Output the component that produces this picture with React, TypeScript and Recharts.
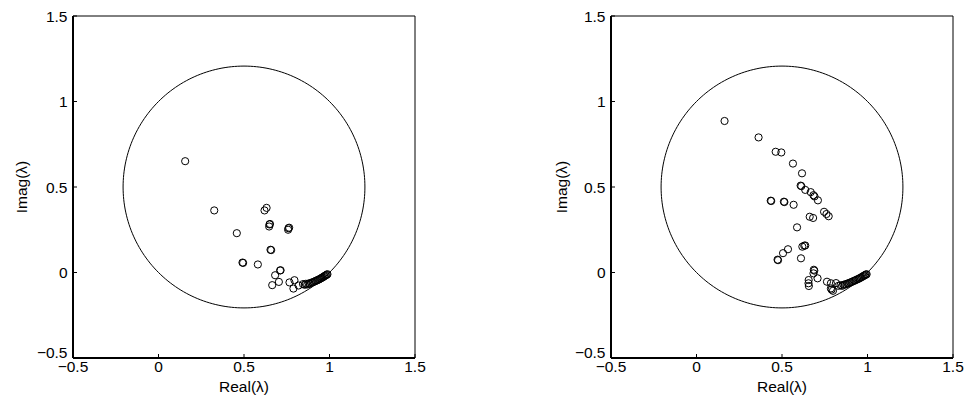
import React from 'react';
import { ScatterChart, Scatter, XAxis, YAxis } from 'recharts';

// axis setup shared by both panels
const AXIS_DOMAIN: [number, number] = [-0.5, 1.5];
const AXIS_TICKS = [-0.5, 0, 0.5, 1, 1.5];

// reference circle (passes through 0 and 1)
const CIRCLE_CENTER = 0.5;
const CIRCLE_RADIUS = Math.SQRT1_2;

// left panel eigenvalues
const leftReal = [
  0.156, 0.326, 0.458, 0.491, 0.495, 0.581, 0.632, 0.620, 0.649, 0.647, 0.652,
  0.760, 0.758, 0.764, 0.655, 0.659, 0.711, 0.714, 0.682, 0.704, 0.665, 0.766,
  0.795, 0.789, 0.819,
  0.845, 0.855, 0.862, 0.870, 0.878, 0.885, 0.892, 0.900, 0.907, 0.914, 0.920,
  0.927, 0.933, 0.940, 0.946, 0.952, 0.958, 0.964, 0.969, 0.974, 0.979, 0.984, 0.988,
];
const leftImag = [
  0.651, 0.363, 0.230, 0.058, 0.056, 0.047, 0.378, 0.363, 0.281, 0.269, 0.284,
  0.259, 0.250, 0.262, 0.133, 0.131, 0.012, 0.013, -0.016, -0.055, -0.074, -0.058,
  -0.045, -0.094, -0.076,
  -0.068, -0.072, -0.066, -0.070, -0.064, -0.066, -0.060, -0.058, -0.055, -0.052, -0.049,
  -0.046, -0.043, -0.040, -0.036, -0.033, -0.029, -0.026, -0.022, -0.019, -0.016, -0.013, -0.010,
];

// right panel eigenvalues
const rightReal = [
  0.164, 0.363, 0.463, 0.496, 0.564, 0.617, 0.609, 0.613, 0.636, 0.668, 0.684,
  0.690, 0.710, 0.434, 0.437, 0.511, 0.514, 0.568, 0.662, 0.682, 0.746, 0.760,
  0.773, 0.588, 0.619, 0.630, 0.636, 0.535, 0.506, 0.474, 0.477, 0.611, 0.689,
  0.686, 0.684, 0.708, 0.656, 0.655, 0.657, 0.763, 0.786, 0.786, 0.790, 0.798, 0.816,
  0.830, 0.842, 0.852, 0.860, 0.868, 0.876, 0.884, 0.892, 0.900, 0.908, 0.916,
  0.924, 0.932, 0.940, 0.948, 0.955, 0.962, 0.969, 0.975, 0.981, 0.986, 0.991, 0.995,
];
const rightImag = [
  0.886, 0.790, 0.706, 0.702, 0.637, 0.580, 0.508, 0.505, 0.483, 0.470, 0.452,
  0.445, 0.422, 0.420, 0.418, 0.414, 0.412, 0.396, 0.326, 0.319, 0.355, 0.342,
  0.329, 0.264, 0.151, 0.157, 0.158, 0.136, 0.113, 0.075, 0.072, 0.083, 0.011,
  0.016, -0.005, -0.034, -0.044, -0.063, -0.079, -0.054, -0.063, -0.093, -0.100, -0.107, -0.062,
  -0.078, -0.074, -0.078, -0.072, -0.070, -0.068, -0.064, -0.062, -0.058, -0.055, -0.051,
  -0.048, -0.044, -0.040, -0.037, -0.033, -0.029, -0.025, -0.021, -0.018, -0.015, -0.012, -0.010,
];

const FONT = '"Liberation Sans", Arial, Helvetica, sans-serif';
const FONT_SIZE = 15.5;

const circlePoints = Array.from({ length: 241 }, (_, i) => {
  const t = (i / 240) * 2 * Math.PI;
  return { x: CIRCLE_CENTER + CIRCLE_RADIUS * Math.cos(t), y: CIRCLE_CENTER + CIRCLE_RADIUS * Math.sin(t) };
});

const fmt = (v: number) => (v < 0 ? '\u2212' + String(-v) : String(v));

const XTick = (props: any) => {
  const { x, y, payload } = props;
  return (
    <text x={x} y={y} dy="0.71em" textAnchor="middle" fontSize={FONT_SIZE} fontFamily={FONT} fill="#000">
      {fmt(payload.value)}
    </text>
  );
};

const YTick = (props: any) => {
  const { x, y, payload } = props;
  // matlab nudges the lowest label up so it clears the x labels
  const shift = payload.value === AXIS_DOMAIN[0] ? -6 : 0;
  return (
    <text x={x} y={y + shift} dy="0.355em" textAnchor="end" fontSize={FONT_SIZE} fontFamily={FONT} fill="#000">
      {fmt(payload.value)}
    </text>
  );
};

const OpenCircle = (props: any) => {
  if (props.cx == null || props.cy == null) return <g />;
  return <circle cx={props.cx} cy={props.cy} r={3.6} fill="none" stroke="#000" strokeWidth={1} />;
};

const Nothing = () => <g />;

interface PanelProps {
  real: number[];
  imag: number[];
  left: number;
  width: number;
  yLabelX: number;
}

const Panel: React.FC<PanelProps> = ({ real, imag, left, width, yLabelX }) => {
  const points = real.map((x, i) => ({ x, y: imag[i] }));
  const plotWidth = 342;
  const yAxisWidth = 73;

  return (
    <div style={{ position: 'absolute', left, top: 0 }}>
      <ScatterChart
        width={width}
        height={400}
        margin={{ top: 15, right: width - yAxisWidth - plotWidth - 1, bottom: 0, left: 0 }}
      >
        <XAxis
          type="number"
          dataKey="x"
          domain={AXIS_DOMAIN}
          ticks={AXIS_TICKS}
          interval={0}
          allowDataOverflow
          height={42}
          tickSize={-4}
          tickMargin={6.5}
          tick={<XTick />}
          tickLine={{ stroke: '#000', strokeWidth: 1 }}
          axisLine={{ stroke: '#000', strokeWidth: 2 }}
          label={(p: any) => {
            const vb = p.viewBox || { x: yAxisWidth, y: 358, width: plotWidth, height: 42 };
            return (
              <text x={vb.x + vb.width / 2} y={vb.y + 33.5} textAnchor="middle" fontSize={FONT_SIZE} fontFamily={FONT} fill="#000">
                Real(λ)
              </text>
            );
          }}
        />
        <XAxis
          xAxisId="top"
          orientation="top"
          type="number"
          dataKey="x"
          domain={AXIS_DOMAIN}
          ticks={AXIS_TICKS}
          interval={0}
          allowDataOverflow
          height={1}
          tickSize={-4}
          tick={false}
          tickLine={{ stroke: '#000', strokeWidth: 1 }}
          axisLine={{ stroke: '#000', strokeWidth: 1 }}
        />
        <YAxis
          type="number"
          dataKey="y"
          domain={AXIS_DOMAIN}
          ticks={AXIS_TICKS}
          interval={0}
          allowDataOverflow
          width={yAxisWidth}
          tickSize={-4}
          tickMargin={9.5}
          tick={<YTick />}
          tickLine={{ stroke: '#000', strokeWidth: 1 }}
          axisLine={{ stroke: '#000', strokeWidth: 2 }}
          label={(p: any) => {
            const vb = p.viewBox || { x: 0, y: 16, width: yAxisWidth, height: 342 };
            const cx = vb.x + yLabelX;
            const cy = vb.y + vb.height / 2;
            return (
              <text
                x={cx}
                y={cy}
                dy="0.355em"
                transform={`rotate(-90 ${cx} ${cy})`}
                textAnchor="middle"
                fontSize={FONT_SIZE}
                fontFamily={FONT}
                fill="#000"
              >
                Imag(λ)
              </text>
            );
          }}
        />
        <YAxis
          yAxisId="right"
          orientation="right"
          type="number"
          dataKey="y"
          domain={AXIS_DOMAIN}
          ticks={AXIS_TICKS}
          interval={0}
          allowDataOverflow
          width={1}
          tickSize={-4}
          tick={false}
          tickLine={{ stroke: '#000', strokeWidth: 1 }}
          axisLine={{ stroke: '#000', strokeWidth: 1 }}
        />
        <Scatter
          data={circlePoints}
          line={{ stroke: '#000', strokeWidth: 1 }}
          shape={<Nothing />}
          isAnimationActive={false}
        />
        <Scatter data={points} shape={<OpenCircle />} isAnimationActive={false} />
      </ScatterChart>
    </div>
  );
};

export default function App() {
  return (
    <div style={{ position: 'absolute', left: 0, top: 0, width: 973, height: 400, background: '#fff' }}>
      <Panel real={leftReal} imag={leftImag} left={0} width={440} yLabelX={21} />
      <Panel real={rightReal} imag={rightImag} left={538} width={435} yLabelX={23} />
    </div>
  );
}
